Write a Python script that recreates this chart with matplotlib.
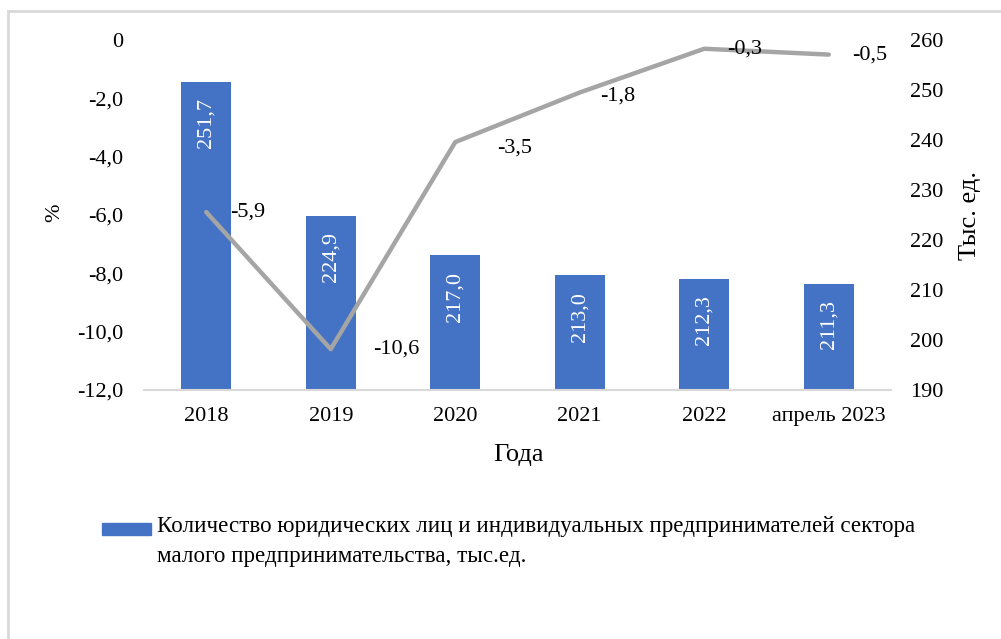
import matplotlib
matplotlib.use('Agg')
import matplotlib.pyplot as plt
from matplotlib.patches import Rectangle
from matplotlib.lines import Line2D
import numpy as np

# данные
years = ["2018", "2019", "2020", "2021", "2022", "апрель 2023"]
counts = [251.7, 224.9, 217.0, 213.0, 212.3, 211.3]      # тыс. ед.
change = [-5.9, -10.6, -3.5, -1.8, -0.3, -0.5]           # %
legend_text = ("Количество юридических лиц и индивидуальных предпринимателей сектора\n"
               "малого предпринимательства, тыс.ед.")

# смещения подписей линии (пиксели)
lbl_dx = [24, 42, 42, 20, 23, 23]
lbl_dy = [0, 0, -6, -4, 0, 0]

plt.rcParams['font.family'] = ['Liberation Serif', 'DejaVu Serif']
FS = 16
BAR = '#4472C4'
GRAY = '#A5A5A5'
AXC = '#D9D9D9'


def fmt(v):
    if v == 0:
        return "0"
    return f"{v:.1f}".replace('.', ',')


def main():
    fig = plt.figure(figsize=(10.01, 6.39), dpi=100)
    W, H = 1001, 639
    ax = fig.add_axes([144 / W, 1 - 390 / H, (891 - 144) / W, 350 / H])
    ax2 = ax.twinx()

    x = np.arange(len(years))

    # столбцы (правая ось)
    ax.bar(x, counts, width=0.4, color=BAR, zorder=2)
    ax.set_ylim(190, 260)
    ax.set_yticks(np.arange(190, 261, 10))
    ax.yaxis.tick_right()
    ax.tick_params(axis='y', length=0, pad=14, labelsize=FS)
    for xi, v in zip(x, counts):
        ax.annotate(fmt(v), (xi, v), xytext=(0, -12), textcoords='offset points',
                    rotation=90, ha='center', va='top', color='white', fontsize=FS)

    # линия (левая ось)
    ax2.plot(x, change, color=GRAY, linewidth=3.2, solid_capstyle='round', zorder=3)
    ax2.set_ylim(-12, 0)
    ax2.set_yticks(np.arange(-12, 0.1, 2))
    ax2.set_yticklabels([fmt(v) for v in np.arange(-12, 0.1, 2)])
    ax2.yaxis.tick_left()
    ax2.tick_params(axis='y', length=0, pad=15, labelsize=FS)
    for xi, v, dx, dy in zip(x, change, lbl_dx, lbl_dy):
        ax2.annotate(fmt(v), (xi, v), xytext=(dx * 0.72, dy * 0.72),
                     textcoords='offset points', ha='left', va='center', fontsize=FS)

    # ось X
    ax.set_xlim(-0.5, len(years) - 0.5)
    ax.set_xticks(np.arange(-0.5, len(years)), minor=False)
    ax.set_xticklabels([])
    ax.set_xticks(x, minor=True)
    ax.set_xticklabels(years, minor=True)
    ax.tick_params(axis='x', which='major', length=6, width=1.5, color=AXC)
    ax.tick_params(axis='x', which='minor', length=0, pad=12, labelsize=FS)

    for a in (ax, ax2):
        for s in ('top', 'left', 'right'):
            a.spines[s].set_visible(False)
        a.spines['bottom'].set_color(AXC)
        a.spines['bottom'].set_linewidth(1.5)
    ax2.spines['bottom'].set_visible(False)
    ax2.set_xticks([])

    fig.text(518 / W, 1 - 455 / H, "Года", ha='center', va='center', fontsize=19)
    fig.text(55 / W, 1 - 213 / H, "%", ha='center', va='center', rotation=90, fontsize=FS)
    fig.text(970 / W, 1 - 215 / H, "Тыс. ед.", ha='center', va='center', rotation=90, fontsize=19)

    # легенда
    fig.patches.append(Rectangle((102 / W, 1 - 535 / H), 49 / W, 12 / H,
                                 transform=fig.transFigure, color=BAR))
    fig.text(157 / W, 1 - 516 / H, legend_text, ha='left', va='top',
             fontsize=16.6, linespacing=1.55)

    # рамка
    fig.add_artist(Line2D([8 / W, 1], [1 - 11 / H, 1 - 11 / H], color=AXC, lw=2,
                          transform=fig.transFigure))
    fig.add_artist(Line2D([8 / W, 8 / W], [0, 1 - 11 / H], color=AXC, lw=2,
                          transform=fig.transFigure))

    fig.savefig('out.png', dpi=100)


if __name__ == '__main__':
    main()
